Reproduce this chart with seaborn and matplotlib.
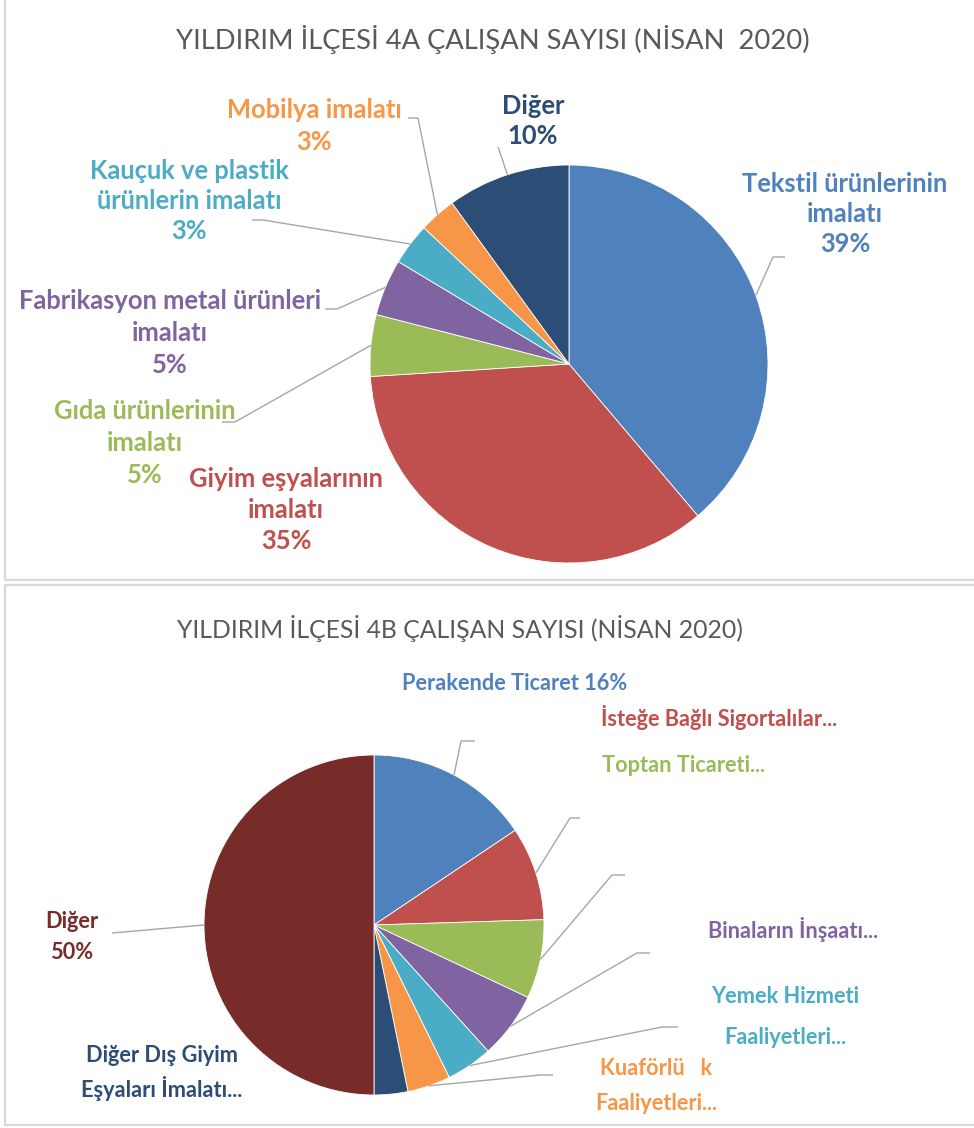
import numpy as np
import matplotlib.pyplot as plt
import seaborn as sns

sns.set_theme(style="white")
plt.rcParams["font.family"] = ["Lato", "DejaVu Sans"]

W, H = 974, 1128

# --- 4A data (share of employees, %) ---
names_4a = ["Tekstil ürünlerinin\nimalatı", "Giyim eşyalarının\nimalatı",
            "Gıda ürünlerinin\nimalatı", "Fabrikasyon metal ürünleri\nimalatı",
            "Kauçuk ve plastik\nürünlerin imalatı", "Mobilya imalatı", "Diğer"]
share_4a = [38.8, 35.2, 5.0, 4.6, 3.4, 3.0, 10.0]
colors_4a = ["#4F81BD", "#C0504D", "#9BBB59", "#8064A2", "#4BACC6", "#F79646", "#2C4D75"]

# --- 4B data ---
names_4b = ["Perakende Ticaret", "İsteğe Bağlı Sigortalılar...", "Toptan Ticareti...",
            "Binaların İnşaatı...", "Yemek Hizmeti\nFaaliyetleri...",
            "Kuaförlü   k\nFaaliyetleri...", "Diğer Dış Giyim\nEşyaları İmalatı...", "Diğer"]
share_4b = [15.6, 8.9, 7.5, 6.3, 4.4, 4.1, 3.2, 50.0]
show_pct_4b = ["inline", None, None, None, None, None, None, "newline"]
colors_4b = ["#4F81BD", "#C0504D", "#9BBB59", "#8064A2", "#4BACC6", "#F79646", "#2C4D75", "#772C2A"]

title_4a = "YILDIRIM İLÇESİ 4A ÇALIŞAN SAYISI (NİSAN  2020)"
title_4b = "YILDIRIM İLÇESİ 4B ÇALIŞAN SAYISI (NİSAN 2020)"

# layout (pixel positions, y from top)
pie_4a = dict(cx=569, cy=364, r=199)
pie_4b = dict(cx=374, cy=925, r=170)
label_pos_4a = [(845, 214), (286, 510), (145, 443), (170, 333), (189, 201), (314, 126), (533, 121)]
label_ls_4a = [1.30, 1.36, 1.39, 1.40, 1.32, 1.39, 1.34]
elbow_4a = [((773, 257), (785, 257)), None, ((235, 422), (222, 422)), ((337, 309), (325, 309)),
            ((263, 220), (252, 220)), ((418, 118), (408, 118)), ((498, 147), (498, 147))]
label_pos_4b = [(515, 683), (719, 717), (684, 766), (793, 930), (785, 1017), (656, 1086),
                (162, 1073), (72, 937)]
label_ls_4b = [1.2, 1.2, 1.2, 1.2, 2.12, 1.82, 1.43, 1.53]
elbow_4b = [((461, 741), (475, 741)), ((570, 818), (580, 818)), ((612, 875), (625, 875)),
            ((637, 953), (650, 953)), ((662, 1027), (678, 1027)), ((540, 1075), (553, 1075)),
            None, ((112, 933), (112, 933))]

fig = plt.figure(figsize=(W / 100, H / 100), dpi=100)
ax = fig.add_axes([0, 0, 1, 1])


def draw_pie(values, colors, geo, labels, pos, ls, elbows, fsize):
    cx, cy, r = geo["cx"], H - geo["cy"], geo["r"]
    ax.pie(values, colors=sns.color_palette(colors), startangle=90, counterclock=False,
           center=(cx, cy), radius=r,
           wedgeprops=dict(linewidth=0.6, edgecolor="white"))
    total = sum(values)
    cum = np.cumsum([0] + list(values))
    for i, v in enumerate(values):
        # leader line starts on the rim at the slice's mid angle
        theta = np.deg2rad(360 * (cum[i] + v / 2) / total)
        ex, ey = cx + r * np.sin(theta), cy + r * np.cos(theta)
        if elbows[i] is not None:
            (bx, by), (tx, ty) = elbows[i]
            ax.plot([ex, bx, tx], [ey, H - by, H - ty], color="#A6A6A6", lw=1.0,
                    solid_capstyle="butt", zorder=1)
        lx, ly = pos[i]
        ax.text(lx, H - ly, labels[i], color=colors[i], fontsize=fsize, fontweight="bold",
                ha="center", va="center", linespacing=ls[i], multialignment="center")


labels_4a = [f"{n}\n{v:.0f}%" for n, v in zip(names_4a, share_4a)]
draw_pie(share_4a, colors_4a, pie_4a, labels_4a, label_pos_4a, label_ls_4a, elbow_4a, 18.4)

labels_4b = []
for n, v, s in zip(names_4b, share_4b, show_pct_4b):
    if s == "inline":
        labels_4b.append(f"{n} {v:.0f}%")
    elif s == "newline":
        labels_4b.append(f"{n}\n{v:.0f}%")
    else:
        labels_4b.append(n)
draw_pie(share_4b, colors_4b, pie_4b, labels_4b, label_pos_4b, label_ls_4b, elbow_4b, 15.7)

# titles
ax.text(493, H - 40, title_4a, fontsize=19.7, color="#595959", ha="center", va="center")
ax.text(460, H - 628, title_4b, fontsize=17.8, color="#595959", ha="center", va="center")

# panel borders
bc = "#D9D9D9"
ax.plot([5, 5, W], [H, H - 580, H - 580], color=bc, lw=1.6)
ax.plot([W, 5, 5, W], [H - 585, H - 585, H - 1125, H - 1125], color=bc, lw=1.6)

ax.set_xlim(0, W)
ax.set_ylim(0, H)
ax.set_aspect("auto")
ax.axis("off")

fig.savefig("out.png", dpi=100, facecolor="white")
